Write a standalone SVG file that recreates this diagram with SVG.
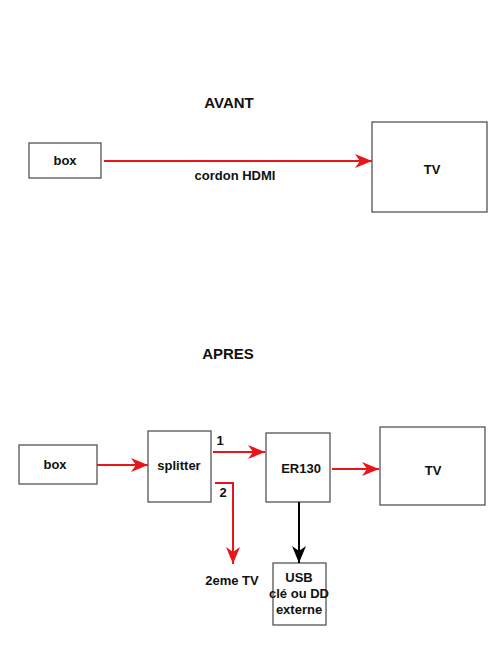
<svg xmlns="http://www.w3.org/2000/svg" width="495" height="660" viewBox="0 0 495 660">
<defs>
<marker id="ar" markerUnits="userSpaceOnUse" markerWidth="18" markerHeight="14" refX="17" refY="7" orient="auto">
<path d="M0,0 L17,7 L0,14 L5,7 Z" fill="#e8161b"/>
</marker>
<marker id="ab" markerUnits="userSpaceOnUse" markerWidth="14" markerHeight="18" refX="17" refY="7" orient="auto">
<path d="M0,0 L17,7 L0,14 L5,7 Z" fill="#000"/>
</marker>
</defs>
<style>
.n{fill:#fff;stroke:#555;stroke-width:1.3}
.t{font-family:"Liberation Sans",Arial,sans-serif;font-weight:bold;font-size:13px;fill:#111;text-anchor:middle}
.h{font-size:15px}
.r{fill:none;stroke:#e8161b;stroke-width:2}
.k{fill:none;stroke:#000;stroke-width:2}
</style>
<rect width="495" height="660" fill="#fff"/>
<text class="t h" x="229" y="108">AVANT</text>
<text class="t h" x="228" y="359">APRES</text>
<g id="box1"><rect class="n" x="29" y="143" width="72" height="35"/><text class="t" x="65" y="165">box</text></g>
<g id="tv1"><rect class="n" x="372" y="122" width="115" height="90"/><text class="t" x="432" y="174">TV</text></g>
<g id="box2"><rect class="n" x="19" y="445" width="78" height="39"/><text class="t" x="55" y="469">box</text></g>
<g id="splitter"><rect class="n" x="148" y="431" width="63" height="71"/><text class="t" x="179" y="470">splitter</text></g>
<g id="er130"><rect class="n" x="266" y="433" width="64" height="69"/><text class="t" x="301" y="473">ER130</text></g>
<g id="tv2"><rect class="n" x="380" y="427" width="105" height="78"/><text class="t" x="433" y="475">TV</text></g>
<g id="usb"><rect class="n" x="273" y="563" width="53" height="62"/><text class="t" x="299" y="582">USB</text><text class="t" x="299" y="598">clé ou DD</text><text class="t" x="299" y="614">externe</text></g>
<g id="tv3"><text class="t" x="232" y="585">2eme TV</text></g>
<g id="connectors">
<path class="r" d="M104,161 H372" marker-end="url(#ar)"/>
<text class="t" x="235" y="180">cordon HDMI</text>
<path class="r" d="M97,465 H148" marker-end="url(#ar)"/>
<path class="r" d="M213,452 H265" marker-end="url(#ar)"/>
<text class="t" x="220" y="445">1</text>
<path class="r" d="M215,483 H233 V564" marker-end="url(#ar)"/>
<text class="t" x="223" y="497">2</text>
<path class="r" d="M332,469 H379" marker-end="url(#ar)"/>
<path class="k" d="M299,502 V563" marker-end="url(#ab)"/>
</g>
</svg>
